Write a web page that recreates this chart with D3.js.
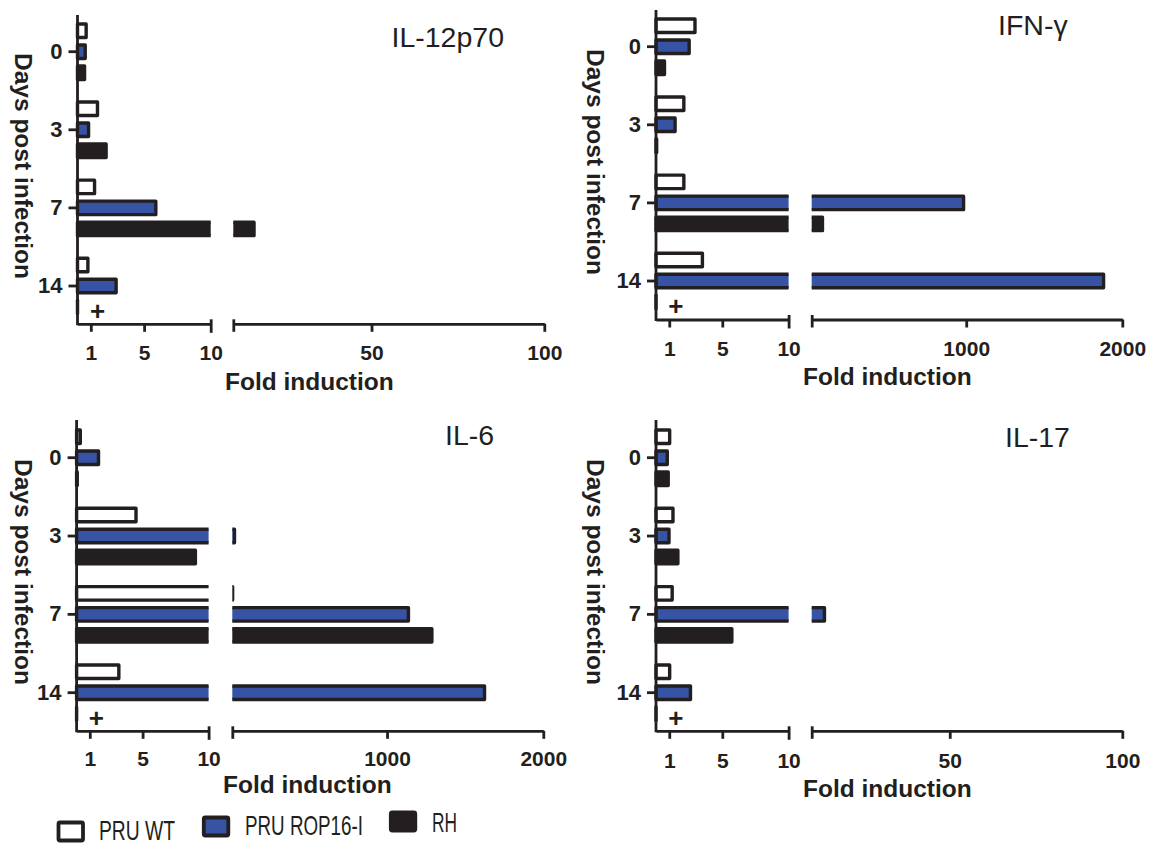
<!DOCTYPE html>
<html><head><meta charset="utf-8">
<script src="https://cdn.jsdelivr.net/npm/d3@7"></script>
<style>html,body{margin:0;padding:0;background:#fff;} svg{display:block;}</style>
</head><body>
<svg id="chart" width="1156" height="849"></svg>
<script>
// ---------- data ----------
const days = ["0", "3", "7", "14"];
const seriesNames = ["PRU WT", "PRU ROP16-I", "RH"];
const seriesFills = ["#ffffff", "#3653a4", "#231f20"];
const cytokines = ["IL-12p70", "IFN-γ", "IL-6", "IL-17"];

const il12_wt  = [0.65, 1.5, 1.28, 0.78];
const il12_rop = [0.58, 0.83, 5.88, 2.9];
const il12_rh  = [0.53, 2.15, 16, 0];

const ifng_wt  = [2.94, 2.1, 2.1, 3.5];
const ifng_rop = [2.5, 1.44, 983, 1880];
const ifng_rh  = [0.64, 0.05, 79, 0];

const il6_wt   = [0.28, 4.5, 12, 3.2];
const il6_rop  = [1.66, 24, 1137, 1624];
const il6_rh   = [0.05, 9, 1287, 0];

const il17_wt  = [1.03, 1.28, 1.22, 1.03];
const il17_rop = [0.85, 0.98, 13.7, 2.6];
const il17_rh  = [0.92, 1.65, 5.72, 0];

const leftTicks = [1, 5, 10];
const rightTicks100 = [50, 100];
const rightTicks2000 = [1000, 2000];
const breakValue = 10;
const deathSymbol = "+";
const deathDay = "14";
const deathSeries = "RH";
const deathMarkValue = 1.5;
const yTitle = "Days post infection";
const xTitle = "Fold induction";

// ---------- assembled tables ----------
const panelData = [
  { name: cytokines[0], values: [il12_wt, il12_rop, il12_rh], rightTicks: rightTicks100 },
  { name: cytokines[1], values: [ifng_wt, ifng_rop, ifng_rh], rightTicks: rightTicks2000 },
  { name: cytokines[2], values: [il6_wt, il6_rop, il6_rh], rightTicks: rightTicks2000 },
  { name: cytokines[3], values: [il17_wt, il17_rop, il17_rh], rightTicks: rightTicks100 }
];

// ---------- layout ----------
const layout = [
  {ox:77.5, leftEnd:210.7, rStart:233.3, rEnd:544.3, band:[12.65,325.05], axisY:323.8, yTop:15,  title:[391.5,47],  tickBase:360, fold:[225,390], yT:[23,166]},
  {ox:656,  leftEnd:788.6, rStart:811.7, rEnd:1122.3, band:[7.65,320.05], axisY:319.5, yTop:10,  title:[998,35],    tickBase:356, fold:[803,385], yT:[595,162]},
  {ox:76.6, leftEnd:208.6, rStart:232.3, rEnd:543.3, band:[418.55,731.85], axisY:730.8, yTop:420, title:[445,445], tickBase:766, fold:[223,793], yT:[23,572]},
  {ox:656,  leftEnd:788.6, rStart:811.7, rEnd:1122.3, band:[418.55,731.85], axisY:730.8, yTop:420, title:[1005,447], tickBase:768, fold:[803,797], yT:[595,572]}
];

const INK = "#231f20";
const FONT = "'Liberation Sans', Arial, Helvetica, sans-serif";
const svg = d3.select("#chart");
const defs = svg.append("defs");

const sub = d3.scaleBand().domain(seriesNames).range([-31.5, 31.5])
  .paddingInner(0.357).paddingOuter(0.1786);

panelData.forEach((pd, pi) => {
  const L = layout[pi];
  const g = svg.append("g");
  const y = d3.scaleBand().domain(days).range(L.band);
  const xL = d3.scaleLinear().domain([0, breakValue]).range([L.ox, L.leftEnd]);
  const rightMax = pd.rightTicks[pd.rightTicks.length - 1];
  const xR = d3.scaleLinear().domain([breakValue, rightMax]).range([L.rStart, L.rEnd]);

  const clipL = "clipL" + pi, clipR = "clipR" + pi;
  defs.append("clipPath").attr("id", clipL).append("rect")
    .attr("x", L.ox - 10).attr("y", 0).attr("width", L.leftEnd - L.ox + 10).attr("height", 849);
  defs.append("clipPath").attr("id", clipR).append("rect")
    .attr("x", L.rStart).attr("y", 0).attr("width", 400).attr("height", 849);

  // rows
  const rows = [];
  days.forEach((d, di) => seriesNames.forEach((s, si) => {
    rows.push({ day: d, series: s, fill: seriesFills[si], v: pd.values[si][di] });
  }));
  const yPos = r => y(r.day) + y.bandwidth() / 2 + sub(r.series);

  const barStyle = sel => sel
    .attr("fill", r => r.fill).attr("stroke", INK).attr("stroke-width", 3.4)
    .attr("stroke-linejoin", "round")
    .attr("y", r => yPos(r)).attr("height", sub.bandwidth());

  g.append("g").attr("clip-path", `url(#${clipL})`).selectAll("rect").data(rows).join("rect")
    .attr("x", xL(0))
    .attr("width", r => r.v <= breakValue ? Math.max(xL(r.v) - xL(0), 0.01) : (L.leftEnd + 12 - xL(0)))
    .call(barStyle);

  g.append("g").attr("clip-path", `url(#${clipR})`).selectAll("rect")
    .data(rows.filter(r => r.v > breakValue)).join("rect")
    .attr("x", L.rStart - 12)
    .attr("width", r => xR(r.v) - (L.rStart - 12))
    .call(barStyle);

  // y axis
  const ya = g.append("g").attr("transform", `translate(${L.ox},0)`)
    .call(d3.axisLeft(y).tickSize(9).tickPadding(6));
  ya.select(".domain").remove();
  ya.selectAll(".tick line").attr("stroke", INK).attr("stroke-width", 2.8);
  ya.selectAll(".tick text").attr("fill", INK).style("font", `bold 22px ${FONT}`);
  g.append("line").attr("x1", L.ox).attr("x2", L.ox).attr("y1", L.yTop).attr("y2", L.axisY + 1.4)
    .attr("stroke", INK).attr("stroke-width", 2.8);

  // x axis segments
  const styleX = (ax, capVal, capTop, capBot) => {
    ax.select(".domain").attr("stroke", INK).attr("stroke-width", 2.8);
    ax.selectAll(".tick line").attr("stroke", INK).attr("stroke-width", 2.8)
      .filter(d => d === capVal).attr("y1", capTop).attr("y2", capBot);
    ax.selectAll(".tick text").attr("fill", INK).attr("y", L.tickBase - L.axisY).attr("dy", 0)
      .style("font", `bold 21px ${FONT}`);
  };
  const xa1 = g.append("g").attr("transform", `translate(0,${L.axisY})`)
    .call(d3.axisBottom(xL).tickValues(leftTicks).tickSize(8).tickSizeOuter(0));
  styleX(xa1, breakValue, -4.5, 9);
  const xa2 = g.append("g").attr("transform", `translate(0,${L.axisY})`)
    .call(d3.axisBottom(xR).tickValues([breakValue, ...pd.rightTicks]).tickSize(8).tickSizeOuter(0)
      .tickFormat(d => d === breakValue ? "" : d));
  styleX(xa2, breakValue, -4.5, 8);

  // death mark
  g.append("text").text(deathSymbol)
    .attr("x", xL(deathMarkValue))
    .attr("y", y(deathDay) + y.bandwidth() / 2 + sub(deathSeries) + sub.bandwidth() / 2 + 13)
    .attr("text-anchor", "middle").attr("fill", INK).style("font", `bold 26px ${FONT}`);

  // titles
  g.append("text").text(pd.name).attr("x", L.title[0]).attr("y", L.title[1])
    .attr("fill", INK).style("font", `28.5px ${FONT}`);
  g.append("text").text(xTitle).attr("x", L.fold[0]).attr("y", L.fold[1])
    .attr("fill", INK).style("font", `bold 24.5px ${FONT}`);
  g.append("text").text(yTitle)
    .attr("transform", `translate(${L.yT[0]},${L.yT[1]}) rotate(90)`)
    .attr("text-anchor", "middle").attr("dominant-baseline", "central")
    .attr("fill", INK).style("font", `bold 24.5px ${FONT}`);
});

// ---------- legend ----------
const legendLayout = [
  {x:58.5, y:822.5, tx:99,  ty:840, tl:76},
  {x:203.8, y:817.5, tx:245, ty:835, tl:118},
  {x:390.8, y:812.5, tx:432, ty:832, tl:25}
];
const lg = svg.append("g");
seriesNames.forEach((s, i) => {
  const P = legendLayout[i];
  lg.append("rect").attr("x", P.x).attr("y", P.y).attr("width", 24.5).attr("height", 18)
    .attr("rx", 1.5).attr("fill", seriesFills[i]).attr("stroke", INK).attr("stroke-width", 3.8)
    .attr("stroke-linejoin", "round");
  lg.append("text").text(s).attr("x", P.tx).attr("y", P.ty)
    .attr("textLength", P.tl).attr("lengthAdjust", "spacingAndGlyphs")
    .attr("fill", INK).style("font", `28px ${FONT}`);
});
</script>
</body></html>
